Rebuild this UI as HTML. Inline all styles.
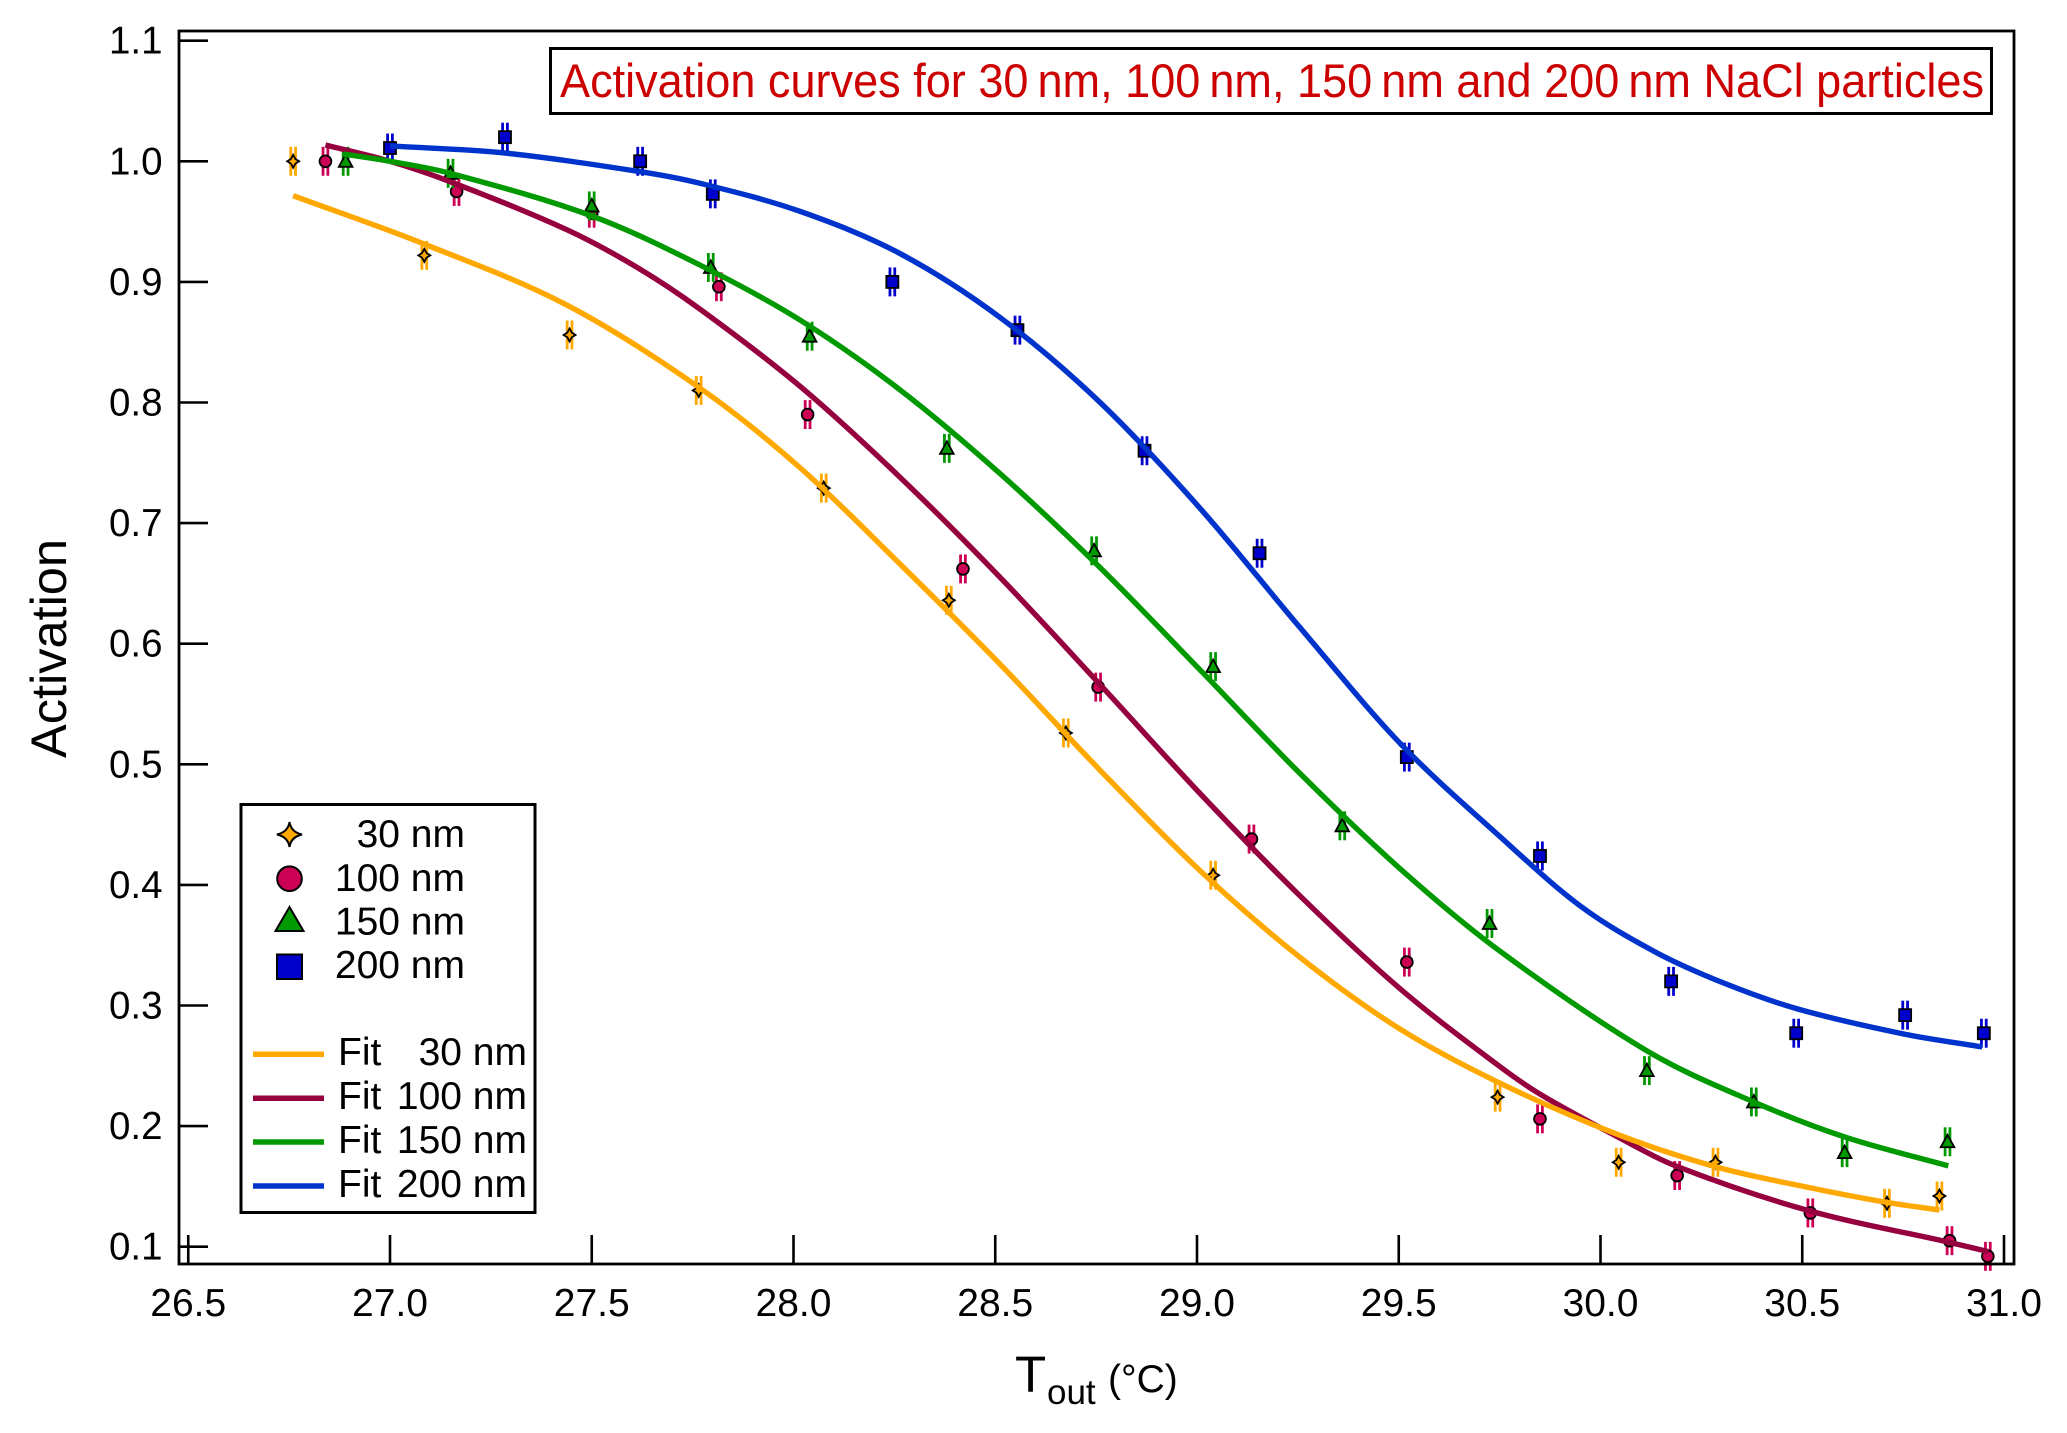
<!DOCTYPE html>
<html lang="en">
<head>
<meta charset="utf-8">
<title>Activation curves</title>
<style>
html,body{margin:0;padding:0;background:#fff;}
svg{display:block;}
text{font-family:"Liberation Sans",Arial,sans-serif;fill:#000;}
</style>
</head>
<body>
<svg id="chart" xmlns="http://www.w3.org/2000/svg" width="2067" height="1433" viewBox="0 0 2067 1433">
  <rect x="0" y="0" width="2067" height="1433" fill="#fff"/>
  <g id="ticks"></g>
  <g id="marks"></g>
  <g id="fits"></g>
  <rect x="179" y="31" width="1835" height="1233" fill="none" stroke="#000" stroke-width="2.8"/>

  <text transform="translate(66,758) rotate(-90)" font-size="50" textLength="219" lengthAdjust="spacingAndGlyphs">Activation</text>
  <g>
    <text x="1015" y="1392" font-size="51">T</text>
    <text x="1047" y="1404" font-size="35">out</text>
    <text x="1108" y="1392" font-size="39">(°C)</text>
  </g>

  <g>
    <rect x="550.5" y="48.5" width="1441" height="65" fill="#fff" stroke="#000" stroke-width="3"/>
    <text x="560" y="97" font-size="47" style="fill:#cc0000" textLength="1424" lengthAdjust="spacingAndGlyphs">Activation curves for 30&#8201;nm, 100&#8201;nm, 150&#8201;nm and 200&#8201;nm NaCl particles</text>
  </g>

  <g>
    <rect x="241" y="804.5" width="294" height="408" fill="#fff" stroke="#000" stroke-width="3"/>
    <path d="M289.5 822 Q291 832 302 834.5 Q291 837 289.5 847 Q288 837 277 834.5 Q288 832 289.5 822Z" fill="#ffa800" stroke="#000" stroke-width="2"/>
    <circle cx="289.5" cy="878.7" r="12.3" fill="#cc0055" stroke="#000" stroke-width="2"/>
    <path d="M289.5 907 L303.5 931 L275.5 931Z" fill="#009900" stroke="#000" stroke-width="2"/>
    <rect x="277" y="954.5" width="25" height="24.5" fill="#0000cc" stroke="#000" stroke-width="2"/>
    <text x="465" y="847" font-size="39" text-anchor="end">30 nm</text>
    <text x="465" y="891" font-size="39" text-anchor="end">100 nm</text>
    <text x="465" y="934.5" font-size="39" text-anchor="end">150 nm</text>
    <text x="465" y="978" font-size="39" text-anchor="end">200 nm</text>
    <line x1="253" x2="324" y1="1054.3" y2="1054.3" stroke="#ffa800" stroke-width="5.5"/>
    <line x1="253" x2="324" y1="1098.3" y2="1098.3" stroke="#96003f" stroke-width="5.5"/>
    <line x1="253" x2="324" y1="1142" y2="1142" stroke="#009900" stroke-width="5.5"/>
    <line x1="253" x2="324" y1="1186" y2="1186" stroke="#0033cc" stroke-width="5.5"/>
    <text x="338" y="1065" font-size="39">Fit</text>
    <text x="338" y="1109" font-size="39">Fit</text>
    <text x="338" y="1153" font-size="39">Fit</text>
    <text x="338" y="1197" font-size="39">Fit</text>
    <text x="527" y="1065" font-size="39" text-anchor="end">30 nm</text>
    <text x="527" y="1109" font-size="39" text-anchor="end">100 nm</text>
    <text x="527" y="1153" font-size="39" text-anchor="end">150 nm</text>
    <text x="527" y="1197" font-size="39" text-anchor="end">200 nm</text>
  </g>
</svg>
<script>
// Tick labels
const xTickLabels = ["26.5","27.0","27.5","28.0","28.5","29.0","29.5","30.0","30.5","31.0"];
const yTickLabels = ["0.1","0.2","0.3","0.4","0.5","0.6","0.7","0.8","0.9","1.0","1.1"];

// Measured points
const x30 = [26.76,27.085,27.445,27.765,28.075,28.385,28.675,29.04,29.745,30.045,30.285,30.71,30.84];
const y30 = [1.0,0.922,0.856,0.81,0.729,0.636,0.526,0.408,0.224,0.17,0.17,0.136,0.142];
const x100 = [26.84,27.165,27.5,27.815,28.035,28.42,28.755,29.135,29.52,29.85,30.19,30.52,30.865,30.96];
const y100 = [1.0,0.975,0.957,0.896,0.79,0.662,0.564,0.438,0.336,0.206,0.159,0.128,0.105,0.092];
const x150 = [26.89,27.15,27.5,27.795,28.04,28.38,28.745,29.04,29.36,29.725,30.115,30.38,30.605,30.86];
const y150 = [1.0,0.99,0.963,0.912,0.855,0.762,0.677,0.581,0.449,0.368,0.246,0.22,0.178,0.187];
const x200 = [27.0,27.285,27.62,27.8,28.245,28.555,28.87,29.155,29.52,29.85,30.175,30.485,30.755,30.95];
const y200 = [1.011,1.02,1.0,0.973,0.9,0.86,0.76,0.675,0.506,0.424,0.32,0.277,0.292,0.277];
const errorHalf = 0.012;

// Fit curves
const fitX30 = [26.76,27.08,27.44,27.768,28.016,28.264,28.512,28.76,29.007,29.255,29.503,29.751,30.04,30.285,30.51,30.705,30.84];
const fitY30 = [0.9715,0.932,0.8805,0.812,0.746,0.666,0.583,0.495,0.412,0.34,0.2805,0.2356,0.1934,0.1663,0.1495,0.137,0.1304];
const fitX100 = [26.84,27,27.15,27.44,27.615,27.768,28.016,28.264,28.512,28.76,29.007,29.255,29.503,29.75,29.855,30.04,30.19,30.515,30.866,30.96];
const fitY100 = [1.0135,1.0,0.983,0.943,0.9115,0.8775,0.8135,0.738,0.655,0.566,0.476,0.391,0.314,0.2495,0.2255,0.1915,0.1665,0.13,0.1035,0.096];
const fitX150 = [26.886,27,27.15,27.5,27.768,28.016,28.264,28.512,28.76,29.007,29.255,29.503,29.751,30.117,30.38,30.605,30.862];
const fitY150 = [1.006,1.0,0.99,0.9547,0.914,0.8684,0.8105,0.741,0.663,0.5785,0.4925,0.4135,0.345,0.262,0.22,0.191,0.167];
const fitX200 = [27.0,27.28,27.62,27.768,28.016,28.264,28.512,28.76,29.007,29.255,29.503,29.751,29.95,30.135,30.31,30.49,30.75,30.946];
const fitY200 = [1.0127,1.007,0.9914,0.9818,0.9585,0.9235,0.8705,0.8,0.7125,0.6135,0.5175,0.44,0.3825,0.3445,0.318,0.297,0.2765,0.2656];

const NS = "http://www.w3.org/2000/svg";
const sx = v => 390 + (v - 27) * 403.5;
const sy = v => 161.3 + (1 - v) * 1206;
const plotBottom = 1264;
const plotLeft = 179;

function make(tag, attrs, parent){
  const el = document.createElementNS(NS, tag);
  for (const k in attrs) el.setAttribute(k, attrs[k]);
  parent.appendChild(el);
  return el;
}

const ticksG = document.getElementById("ticks");
xTickLabels.forEach(function(label){
  const v = parseFloat(label);
  const tick = make("line", {x1:sx(v), x2:sx(v), y1:plotBottom, y2:plotBottom-29, stroke:"#000", "stroke-width":2.6}, ticksG);
  
  
  const t = make("text", {x:sx(v), y:1316, "font-size":39, "text-anchor":"middle"}, ticksG);
  
  
  t.textContent = label;
});
yTickLabels.forEach(function(label){
  const v = parseFloat(label);
  const tick = make("line", {x1:plotLeft, x2:plotLeft+29, y1:sy(v), y2:sy(v), stroke:"#000", "stroke-width":2.6}, ticksG);
  
  
  const t = make("text", {x:162.5, y:sy(v)+13, "font-size":38.5, "text-anchor":"end"}, ticksG);
  
  
  t.textContent = label;
});

function drawMarker(kind, cx, cy, color, parent){
  let m;
  if (kind === "diamond") {
    m = make("path", {d:`M${cx} ${cy-6.5}L${cx+2.3} ${cy-2.3}L${cx+6} ${cy}L${cx+2.3} ${cy+2.3}L${cx} ${cy+6.5}L${cx-2.3} ${cy+2.3}L${cx-6} ${cy}L${cx-2.3} ${cy-2.3}Z`, fill:color, stroke:"#000", "stroke-width":1.8}, parent);
  } else if (kind === "circle") {
    m = make("circle", {cx:cx, cy:cy, r:5.9, fill:color, stroke:"#000", "stroke-width":1.8}, parent);
  } else if (kind === "triangle") {
    m = make("path", {d:`M${cx} ${cy-7}L${cx+6.8} ${cy+5.5}L${cx-6.8} ${cy+5.5}Z`, fill:color, stroke:"#000", "stroke-width":1.8}, parent);
  } else {
    m = make("rect", {x:cx-6, y:cy-6, width:12, height:12, fill:color, stroke:"#000", "stroke-width":1.8}, parent);
  }
  return m;
}

function drawSeries(name, kind, color, xs, ys){
  const g = make("g", {}, document.getElementById("marks"));
  
  
  xs.forEach(function(xv, i){
    const cx = sx(xv), yv = ys[i];
    [-2.4, 2.4].forEach(function(off){
      const bar = make("line", {x1:cx+off, x2:cx+off, y1:sy(yv+errorHalf), y2:sy(yv-errorHalf), stroke:color, "stroke-width":2.8}, g);
      
      
    });
    const m = drawMarker(kind, cx, sy(yv), color, g);
    
    
  });
}
drawSeries("30nm", "diamond", "#ffa800", x30, y30);
drawSeries("100nm", "circle", "#cc0055", x100, y100);
drawSeries("150nm", "triangle", "#009900", x150, y150);
drawSeries("200nm", "square", "#0000cc", x200, y200);

function curvePath(xs, ys){
  const p = xs.map((xv, i) => [sx(xv), sy(ys[i])]);
  let d = `M${p[0][0].toFixed(2)} ${p[0][1].toFixed(2)}`;
  for (let i = 0; i < p.length - 1; i++) {
    const a = p[Math.max(i-1,0)], b = p[i], c = p[i+1], e = p[Math.min(i+2,p.length-1)];
    const t = (c[0]-b[0]) / 3;
    const m1 = (c[1]-a[1]) / Math.max(c[0]-a[0], 1);
    const m2 = (e[1]-b[1]) / Math.max(e[0]-b[0], 1);
    d += `C${(b[0]+t).toFixed(2)} ${(b[1]+m1*t).toFixed(2)} ${(c[0]-t).toFixed(2)} ${(c[1]-m2*t).toFixed(2)} ${c[0].toFixed(2)} ${c[1].toFixed(2)}`;
  }
  return d;
}
function drawFit(name, color, xs, ys){
  const line = make("path", {d:curvePath(xs, ys), fill:"none", stroke:color, "stroke-width":5.4, "stroke-linejoin":"round"}, document.getElementById("fits"));
  
  
}
drawFit("100nm", "#96003f", fitX100, fitY100);
drawFit("30nm", "#ffa800", fitX30, fitY30);
drawFit("150nm", "#009900", fitX150, fitY150);
drawFit("200nm", "#0033cc", fitX200, fitY200);
</script>
</body>
</html>
